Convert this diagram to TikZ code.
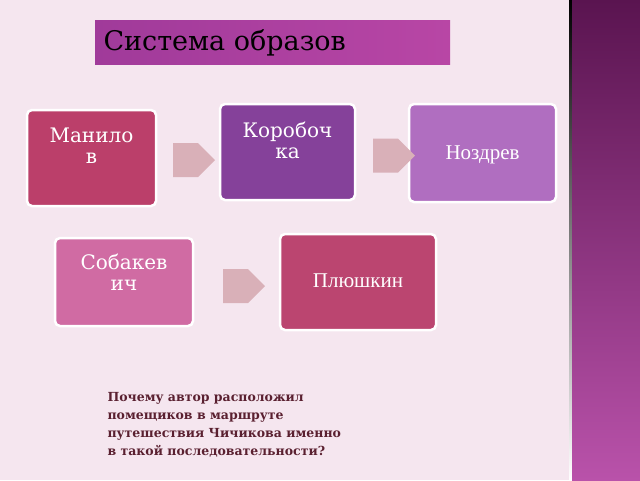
\documentclass[tikz,border=0pt]{standalone}
\usepackage{fontspec}
\setmainfont{DejaVu Serif}
\newfontfamily\tms{Liberation Serif}
\usetikzlibrary{shapes.arrows}
\definecolor{bg}{HTML}{F5E6EF}
\definecolor{arr}{HTML}{D9B0B8}
\tikzset{x=1pt,y=-1pt,
 card/.style={draw=white,line width=2.5pt,rounded corners=5pt},
 lbl/.style={text=white,font=\fontsize{20}{21}\selectfont,align=center,anchor=north},
 blk/.style={single arrow,draw=none,fill=arr,minimum height=42pt,minimum width=34pt,single arrow head extend=0pt,inner sep=0pt,single arrow head indent=0pt}}
\begin{document}
\begin{tikzpicture}
\useasboundingbox (0,0) rectangle (640,480);
\fill[bg] (0,0) rectangle (640,480);
\shade[top color=black!20!black, bottom color=white] (569,0) rectangle (572,480);
\shade[top color={rgb,255:red,90;green,20;blue,80}, bottom color={rgb,255:red,185;green,82;blue,170}] (572,0) rectangle (640,480);
\shade[left color={rgb,255:red,160;green,58;blue,154}, right color={rgb,255:red,184;green,70;blue,165}] (95,20) rectangle (450,64);
\node[anchor=west,font=\fontsize{27}{28}\selectfont] (title) at (100,43) {Система образов};
\draw[card,fill={rgb,255:red,187;green,63;blue,106}] (27,110) rectangle (156,206);
\node[lbl] (man) at (91.5,124) {Манило\\в};
\draw[card,fill={rgb,255:red,133;green,65;blue,154}] (220,104) rectangle (355,200);
\node[lbl] (kor) at (287.5,118) {Коробоч\\ка};
\draw[card,fill={rgb,255:red,176;green,110;blue,192}] (409,104) rectangle (556,202);
\node[text=white,font=\tms\fontsize{21}{22}\selectfont] (noz) at (482.5,155) {Ноздрев};
\draw[card,fill={rgb,255:red,208;green,107;blue,163}] (55,238) rectangle (193,326);
\node[lbl] (sob) at (124,250) {Собакев\\ич};
\draw[card,fill={rgb,255:red,187;green,69;blue,112}] (280,234) rectangle (436,330);
\node[text=white,font=\tms\fontsize{21}{22}\selectfont] (plu) at (358,281) {Плюшкин};
\node[blk] (a1) at (185.5,160) {};
\node[blk] (a2) at (385.5,155.5) {};
\node[blk] (a3) at (235.5,286) {};
\node[anchor=north west,align=left,text={rgb,255:red,90;green,32;blue,48},font=\bfseries\fontsize{12.5}{18}\selectfont] (q) at (104,389) {Почему автор расположил\\помещиков в маршруте\\путешествия Чичикова именно\\в такой последовательности?};
\end{tikzpicture}
\end{document}
